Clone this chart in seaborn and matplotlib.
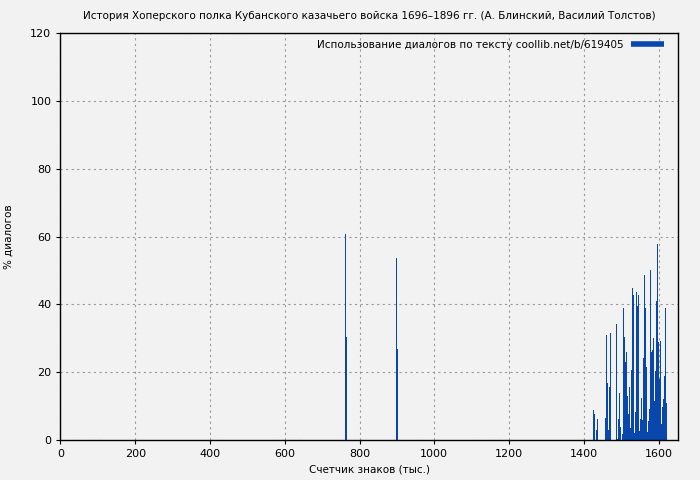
import matplotlib
matplotlib.use("Agg")
import matplotlib.pyplot as plt
import seaborn as sns
import pandas as pd

# position in text (thousand chars) and share of dialogue (%)
positions = [762, 765, 898, 901,
             1424, 1427, 1432, 1435, 1457, 1460, 1462, 1465, 1468, 1470,
             1486, 1489, 1492, 1494, 1497, 1502, 1505, 1508, 1510, 1513,
             1516, 1518, 1521, 1524, 1526, 1529, 1532, 1534, 1537, 1540,
             1542, 1545, 1548, 1550, 1553, 1556, 1558, 1561, 1564, 1567,
             1569, 1572, 1575, 1577, 1580, 1583, 1585, 1588, 1591, 1593,
             1596, 1599, 1601, 1604, 1607, 1609, 1612, 1615, 1617, 1620]
dialog_pct = [60.6, 30.3, 53.7, 26.8,
              8.8, 7.8, 2.9, 6.1, 6.4, 31.0, 16.8, 3.0, 15.6, 31.5,
              34.2, 0.3, 6.3, 13.9, 3.9, 1.8, 38.9, 30.4, 23.0, 26.0,
              13.0, 7.8, 15.5, 3.5, 20.6, 44.8, 42.7, 2.1, 8.2, 43.6,
              39.4, 42.7, 2.6, 6.3, 12.4, 6.0, 24.2, 48.8, 38.9, 21.6,
              2.4, 5.7, 9.0, 50.0, 26.0, 26.4, 30.1, 11.6, 20.3, 41.0,
              57.8, 29.0, 18.0, 29.2, 4.8, 9.7, 12.0, 19.0, 39.0, 11.0]

title = "История Хоперского полка Кубанского казачьего войска 1696–1896 гг. (А. Блинский, Василий Толстов)"
legend_label = "Использование диалогов по тексту coollib.net/b/619405"
bar_color = "#0a47ad"
bg = "#f2f2f2"

df = pd.DataFrame({"pos": positions, "pct": dialog_pct})

sns.set_style("ticks")
plt.rcParams["font.family"] = ["DejaVu Sans"]
plt.rcParams["text.color"] = "black"
plt.rcParams["axes.labelcolor"] = "black"
plt.rcParams["xtick.color"] = "black"
plt.rcParams["ytick.color"] = "black"

fig = plt.figure(figsize=(7, 4.8), dpi=100, facecolor=bg)
ax = fig.add_axes([0.0864, 0.0833, 0.8822, 0.8479])
ax.set_facecolor(bg)

ax.bar(df["pos"], df["pct"], width=2.7, color=bar_color, linewidth=0,
       align="edge", antialiased=False)

ax.set_xlim(0, 1652)
ax.set_ylim(0, 120)
ax.set_xticks(range(0, 1601, 200))
ax.set_yticks(range(0, 121, 20))
ax.grid(True, color="#999999", linestyle=(0, (2, 3)), linewidth=0.8)
ax.set_axisbelow(True)
for s in ax.spines.values():
    s.set_color("black")
    s.set_linewidth(1)
ax.tick_params(axis="both", labelsize=8, length=3, direction="out", color="black")

ax.set_xlabel("Счетчик знаков (тыс.)", fontsize=7.5, labelpad=4)
ax.set_ylabel("% диалогов", fontsize=7.5, labelpad=12)
ax.set_title(title, fontsize=7.5, pad=10)

handle = plt.Line2D([], [], color=bar_color, linewidth=4, solid_capstyle="butt")
leg = ax.legend([handle], [legend_label], loc="upper right", frameon=False,
                markerfirst=False, fontsize=7.5, handlelength=3.2,
                handletextpad=0.7, borderaxespad=0.9,
                bbox_to_anchor=(1, 1.0172))

fig.savefig("out.png", dpi=100, facecolor=bg)
